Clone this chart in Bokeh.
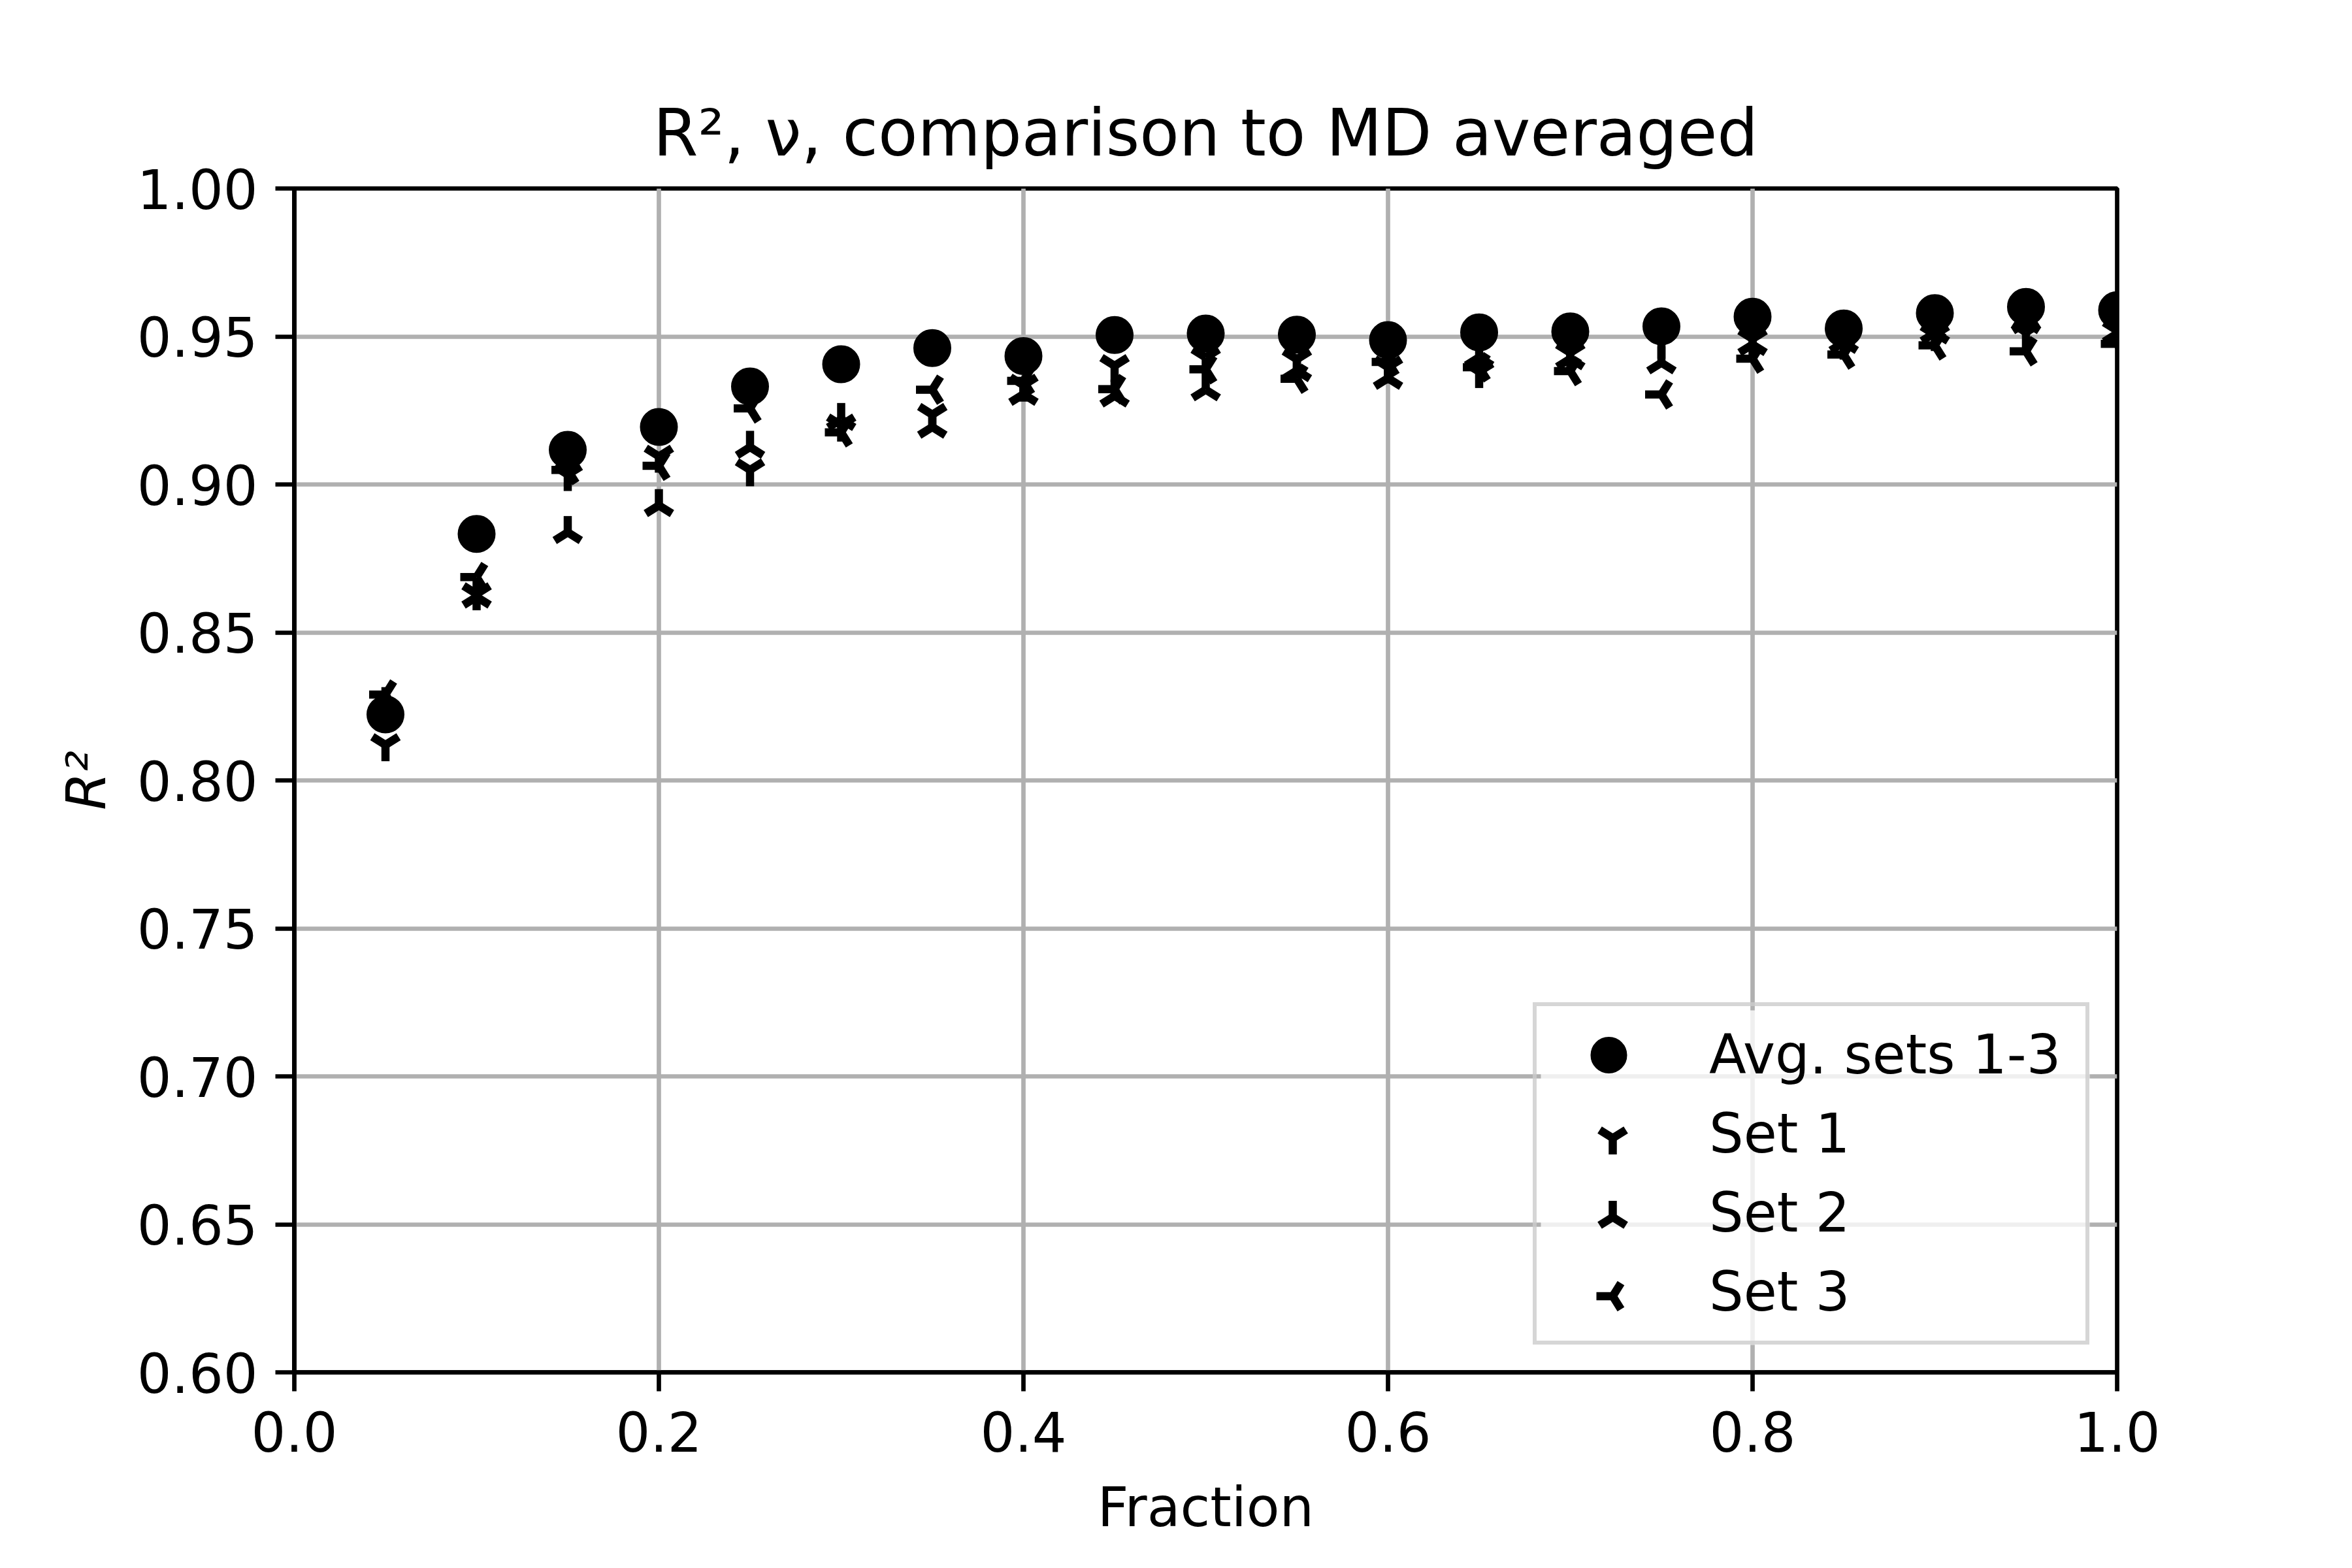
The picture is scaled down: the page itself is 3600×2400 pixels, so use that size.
import numpy as np
from bokeh.plotting import figure
from bokeh.models import (Range1d, FixedTicker, PrintfTickFormatter, Legend,
                          LegendItem, ColumnDataSource)
from bokeh.embed import file_html
from bokeh.resources import INLINE

# ---------------- data ----------------
fraction = [0.05, 0.10, 0.15, 0.20, 0.25, 0.30, 0.35, 0.40, 0.45, 0.50,
            0.55, 0.60, 0.65, 0.70, 0.75, 0.80, 0.85, 0.90, 0.95, 1.00]
avg_r2 = [0.8223, 0.8833, 0.9117, 0.9194, 0.9331, 0.9406, 0.9461, 0.9434, 0.9505, 0.9510,
          0.9506, 0.9488, 0.9514, 0.9517, 0.9534, 0.9567, 0.9527, 0.9579, 0.9600, 0.9589]
set1_r2 = [0.8120, 0.8630, 0.9033, 0.9095, 0.9049, 0.9200, 0.9236, 0.9335, 0.9401, 0.9429,
           0.9423, 0.9396, 0.9381, 0.9445, 0.9480, 0.9492, 0.9477, 0.9506, 0.9514, 0.9520]
set2_r2 = [0.8260, 0.8620, 0.8838, 0.8929, 0.9126, 0.9220, 0.9194, 0.9305, 0.9299, 0.9320,
           0.9385, 0.9359, 0.9430, 0.9425, 0.9411, 0.9473, 0.9480, 0.9512, 0.9547, 0.9510]
set3_r2 = [0.8290, 0.8687, 0.9049, 0.9063, 0.9257, 0.9176, 0.9320, 0.9350, 0.9322, 0.9389,
           0.9357, 0.9414, 0.9396, 0.9383, 0.9304, 0.9425, 0.9439, 0.9470, 0.9450, 0.9475]
series_labels = ["Avg. sets 1-3", "Set 1", "Set 2", "Set 3"]
x_ticks = [0.0, 0.2, 0.4, 0.6, 0.8, 1.0]
y_ticks = [0.60, 0.65, 0.70, 0.75, 0.80, 0.85, 0.90, 0.95, 1.00]
title_text = "R\u00b2, \u03bd, comparison to MD averaged"
x_label = "Fraction"
y_label = "R\u00b2"

# ---------------- styles / layout ----------------
FONT = "DejaVu Sans"
LW = 6.7          # 0.8 pt at 600 dpi
GRID = "#b0b0b0"
W, H = 3584, 2384
BL, BR, BT, BB = 450, 344, 288, 284
FW, FH = W - BL - BR, H - BT - BB      # frame size in px

d = np.pi / 180.0
# tri markers (matplotlib geometry): stem + two arms at +-32 deg
tri_arms = {
    "down": [(-90 * d, 25.0), (32 * d, 23.6), (148 * d, 23.6)],
    "up":   [(90 * d, 25.0), (-32 * d, 23.6), (-148 * d, 23.6)],
    "left": [(180 * d, 25.0), (58 * d, 23.6), (-58 * d, 23.6)],
}
TRI_LW = 12.5

# legend geometry (px, relative to the frame's bottom-left corner)
LEG_MARGIN, LEG_PAD, LEG_SPACING = 42, 22, 16
GLYPH_W, GLYPH_H = 176, 105
LABEL_STANDOFF, LABEL_W = 66, 554
LEG_W = 2 * LEG_PAD + GLYPH_W + LABEL_STANDOFF + LABEL_W
LEG_H = 2 * LEG_PAD + 4 * GLYPH_H + 3 * LEG_SPACING
leg_left = FW - LEG_MARGIN - LEG_W
leg_right = FW - LEG_MARGIN
leg_bottom = LEG_MARGIN
leg_top = LEG_MARGIN + LEG_H
leg_glyph_x = leg_left + LEG_PAD + GLYPH_W / 2

p = figure(width=W, height=H,
           x_range=Range1d(0.0, 1.0), y_range=Range1d(0.60, 1.00),
           output_backend="svg", toolbar_location=None,
           min_border_left=BL, min_border_right=BR,
           min_border_top=BT, min_border_bottom=BB)
p.extra_x_ranges = {"legend_px": Range1d(0, FW)}
p.extra_y_ranges = {"legend_px": Range1d(0, FH)}

p.background_fill_color = "white"
p.border_fill_color = "white"
p.outline_line_color = "black"
p.outline_line_width = LW
p.outline_line_alpha = 1.0

# title
p.title.text = title_text
p.title.text_font = FONT
p.title.text_font_size = "99px"
p.title.text_font_style = "normal"
p.title.text_color = "#000000"
p.title.text_alpha = 1.0
p.title.align = "center"
p.title.standoff = 55

# axes
p.xaxis.ticker = FixedTicker(ticks=x_ticks)
p.yaxis.ticker = FixedTicker(ticks=y_ticks)
p.xaxis.formatter = PrintfTickFormatter(format="%.1f")
p.yaxis.formatter = PrintfTickFormatter(format="%.2f")
for ax in (p.xaxis, p.yaxis):
    ax.axis_line_width = LW
    ax.axis_line_color = "black"
    ax.major_tick_line_width = LW
    ax.major_tick_line_color = "black"
    ax.major_tick_out = 29
    ax.major_tick_in = 0
    ax.minor_tick_out = 0
    ax.minor_tick_in = 0
    ax.major_label_text_font = FONT
    ax.major_label_text_font_size = "83px"
    ax.major_label_text_color = "black"
    ax.axis_label_text_font = FONT
    ax.axis_label_text_font_size = "83px"
    ax.axis_label_text_color = "black"
p.xaxis.axis_label = x_label
p.yaxis.axis_label = y_label
p.xaxis.axis_label_text_font_style = "normal"
p.yaxis.axis_label_text_font_style = "italic"
p.xaxis.major_label_standoff = 30
p.yaxis.major_label_standoff = 27
p.xaxis.axis_label_standoff = 34
p.yaxis.axis_label_standoff = 26

# grid
for g in (p.xgrid, p.ygrid):
    g.grid_line_color = GRID
    g.grid_line_width = LW

# average points
r_avg = p.scatter(fraction, avg_r2, marker="circle", size=44,
                  fill_color="black", line_color="black", line_width=14)

legend_items = [LegendItem(label=series_labels[0], renderers=[r_avg])]
set_kinds = ["down", "up", "left"]
for label, vals, kind in zip(series_labels[1:], [set1_r2, set2_r2, set3_r2], set_kinds):
    src = ColumnDataSource(dict(x=fraction, y=vals))
    for ang, ln in tri_arms[kind]:
        p.ray(x="x", y="y", source=src, length=ln, length_units="screen",
              angle=ang, line_width=TRI_LW, line_color="black", line_cap="butt")
    # transparent stand-in so the legend gets an entry for this series
    r = p.scatter(x="x", y="y", source=src, marker="y", size=20,
                  line_alpha=0.0, fill_alpha=0.0)
    legend_items.append(LegendItem(label=label, renderers=[r]))

# semi-transparent legend background (drawn under the legend keys)
p.quad(left=[leg_left], right=[leg_right], bottom=[leg_bottom], top=[leg_top],
       fill_color="white", fill_alpha=0.8, line_alpha=0.0,
       x_range_name="legend_px", y_range_name="legend_px")

# legend keys with the same tri geometry as the plotted markers
for i, kind in enumerate(set_kinds, start=1):
    ky = leg_top - LEG_PAD - GLYPH_H / 2 - i * (GLYPH_H + LEG_SPACING)
    for ang, ln in tri_arms[kind]:
        p.ray(x=[leg_glyph_x], y=[ky], length=ln, length_units="screen",
              angle=ang, line_width=TRI_LW, line_color="black", line_cap="butt",
              x_range_name="legend_px", y_range_name="legend_px")

legend = Legend(items=legend_items, location="bottom_right", margin=LEG_MARGIN,
                padding=LEG_PAD, spacing=LEG_SPACING,
                glyph_width=GLYPH_W, glyph_height=GLYPH_H,
                label_standoff=LABEL_STANDOFF, label_width=LABEL_W,
                label_text_font=FONT, label_text_font_size="83px",
                label_text_color="black",
                border_line_color="#cccccc", border_line_width=LW,
                border_line_alpha=0.8,
                background_fill_color="white", background_fill_alpha=0.0)
p.add_layout(legend)

open("out.html", "w").write(file_html(p, INLINE))
